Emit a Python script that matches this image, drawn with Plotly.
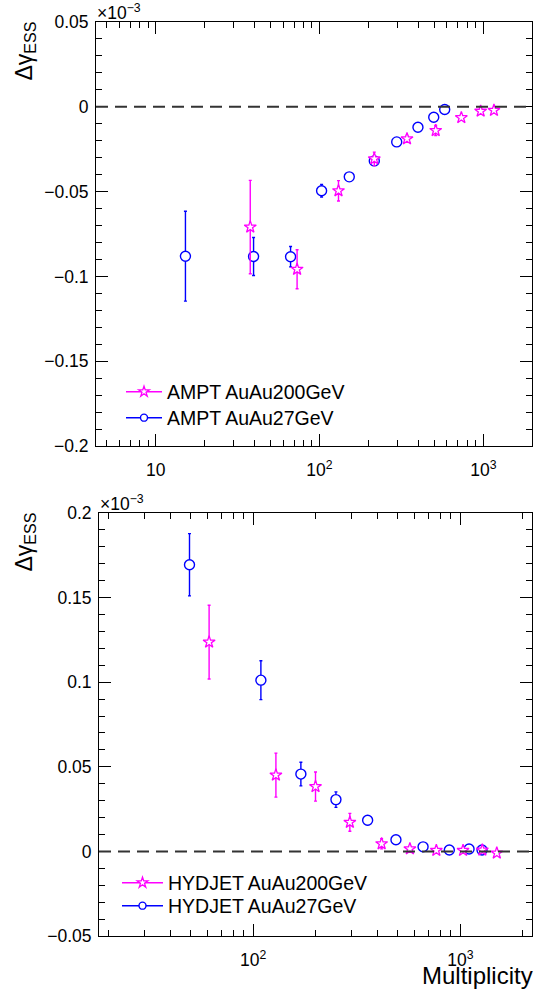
import plotly.graph_objects as go

W, H = 535, 996
FONT = "Liberation Sans, Arial, sans-serif"
MAG = "#ff00ff"
BLUE = "#0000ff"

# ---------------- data (values in units of 1e-3) ----------------
ampt200_x = [37.8, 73, 130.6, 216, 342, 512, 734, 963, 1161]
ampt200_y = [-0.0709, -0.0958, -0.0495, -0.0307, -0.0189, -0.0140, -0.0064, -0.0026, -0.0021]
ampt200_err = [0.0275, 0.0115, 0.0060, 0.0040, 0.0020, 0.0030, 0.0015, 0.0012, 0.0012]

ampt27_x = [15.2, 39.6, 66.6, 103, 152, 216, 296, 399, 498, 581]
ampt27_y = [-0.0881, -0.0883, -0.0884, -0.0495, -0.0413, -0.0319, -0.0207, -0.0121, -0.0062, -0.0016]
ampt27_err = [0.0265, 0.0112, 0.0060, 0.0037, 0.0020, 0.0010, 0.0008, 0.0006, 0.0005, 0.0005]

hyd200_x = [61.3, 128.8, 200, 293, 417, 571, 766, 1031, 1277, 1500]
hyd200_y = [0.1237, 0.0451, 0.0383, 0.0172, 0.0045, 0.0015, 0.0006, 0.0006, 0.0008, -0.0010]
hyd200_err = [0.0218, 0.0130, 0.0086, 0.0053, 0.0030, 0.0015, 0.0010, 0.0010, 0.0008, 0.0008]

hyd27_x = [49.3, 109, 170, 251, 357, 489, 661, 885, 1102, 1273]
hyd27_y = [0.1694, 0.1012, 0.0457, 0.0306, 0.0184, 0.0069, 0.0027, 0.0008, 0.0014, 0.0008]
hyd27_err = [0.0184, 0.0115, 0.0070, 0.0046, 0.0025, 0.0015, 0.0010, 0.0008, 0.0008, 0.0008]

top_names = ["AMPT AuAu200GeV", "AMPT AuAu27GeV"]
bot_names = ["HYDJET AuAu200GeV", "HYDJET AuAu27GeV"]

top_xticks = [10, 100, 1000]
top_xticktext = ["10", "10<sup>2</sup>", "10<sup>3</sup>"]
top_xminor = [5, 6, 7, 8, 9, 20, 30, 40, 50, 60, 70, 80, 90,
              200, 300, 400, 500, 600, 700, 800, 900]
bot_xticks = [100, 1000]
bot_xticktext = ["10<sup>2</sup>", "10<sup>3</sup>"]
bot_xminor = [20, 30, 40, 50, 60, 70, 80, 90,
              200, 300, 400, 500, 600, 700, 800, 900, 2000]


def star(size):
    return dict(symbol="star", size=size, color="white", line=dict(color=MAG, width=1.3))


def circ(size):
    return dict(symbol="circle", size=size, color="white", line=dict(color=BLUE, width=1.4))


def px(x):
    return x / W


def py(y):
    return 1 - y / H


fig = go.Figure()


def add_series(x, y, err, marker, color, xa, ya):
    fig.add_trace(go.Scatter(
        x=x, y=y, mode="markers", marker=marker, showlegend=False,
        error_y=dict(type="data", array=err, color=color, thickness=1.4, width=1.5),
        xaxis=xa, yaxis=ya, hoverinfo="skip"))


def add_legend_entry(name, marker, color, xa, ya, leg):
    fig.add_trace(go.Scatter(
        x=[None], y=[None], mode="lines+markers", marker=marker,
        line=dict(color=color, width=1.4), name=name, legend=leg,
        xaxis=xa, yaxis=ya))


add_series(ampt27_x, ampt27_y, ampt27_err, circ(10), BLUE, "x", "y")
add_series(ampt200_x, ampt200_y, ampt200_err, star(9), MAG, "x", "y")
add_series(hyd27_x, hyd27_y, hyd27_err, circ(10), BLUE, "x2", "y2")
add_series(hyd200_x, hyd200_y, hyd200_err, star(9), MAG, "x2", "y2")

add_legend_entry(top_names[0], star(8), MAG, "x", "y", "legend")
add_legend_entry(top_names[1], circ(7), BLUE, "x", "y", "legend3")
add_legend_entry(bot_names[0], star(8), MAG, "x2", "y2", "legend2")
add_legend_entry(bot_names[1], circ(7), BLUE, "x2", "y2", "legend4")

axis_common = dict(
    showline=True, linecolor="black", linewidth=1, mirror="ticks",
    ticks="inside", ticklen=12, tickwidth=1, tickcolor="black",
    showgrid=False, zeroline=False,
    tickfont=dict(family=FONT, size=17.5, color="black"),
)

LEGFONT = dict(family=FONT, size=19.5, color="black")


def leg(xl, yc, iw=36):
    return dict(x=px(xl), y=py(yc), xanchor="left", yanchor="middle",
                bgcolor="rgba(0,0,0,0)", borderwidth=0, itemwidth=iw, font=LEGFONT)


fig.update_layout(
    width=W, height=H,
    margin=dict(l=0, r=0, t=0, b=0, autoexpand=False),
    paper_bgcolor="white", plot_bgcolor="white",
    font=dict(family=FONT, size=17, color="black"),
    xaxis=dict(**axis_common, type="log", domain=[px(96), px(532)],
               range=[0.636, 3.297], tickmode="array", tickvals=top_xticks,
               ticktext=top_xticktext, anchor="y", ticklabelstandoff=8,
               minor=dict(tickmode="array", tickvals=top_xminor, ticks="inside",
                          ticklen=6, tickcolor="black", tickwidth=1, showgrid=False)),
    yaxis=dict(**axis_common, domain=[py(446), py(22)], range=[-0.2, 0.05],
               tick0=0, dtick=0.05, anchor="x", ticklabelstandoff=3,
               minor=dict(dtick=0.01, ticks="inside", ticklen=6, tickcolor="black",
                          tickwidth=1, showgrid=False)),
    xaxis2=dict(**axis_common, type="log", domain=[px(99), px(532)],
                range=[1.256, 3.346], tickmode="array", tickvals=bot_xticks,
                ticktext=bot_xticktext, anchor="y2", ticklabelstandoff=8,
                minor=dict(tickmode="array", tickvals=bot_xminor, ticks="inside",
                           ticklen=6, tickcolor="black", tickwidth=1, showgrid=False)),
    yaxis2=dict(**axis_common, domain=[py(936), py(513)], range=[-0.05, 0.2],
                tick0=0, dtick=0.05, anchor="x2", ticklabelstandoff=3,
                minor=dict(dtick=0.01, ticks="inside", ticklen=6, tickcolor="black",
                           tickwidth=1, showgrid=False)),
    legend=leg(121, 392),
    legend3=leg(121, 418),
    legend2=leg(117, 883, 41),
    legend4=leg(117, 906, 41),
    showlegend=True,
)

# dashed zero lines
for ya, xa in (("y", "x"), ("y2", "x2")):
    fig.add_shape(type="line", xref=f"{xa} domain", x0=0, x1=1, yref=ya, y0=0, y1=0,
                  line=dict(color="#333333", width=2, dash="12px,7px"), layer="above")

ann = []
for (xl, ytop) in ((96, 22), (99, 513)):
    ann.append(dict(x=px(xl - 1), y=py(ytop - 10), xref="paper", yref="paper",
                    xanchor="left", yanchor="middle", showarrow=False,
                    text="×10<sup>−3</sup>", font=dict(family=FONT, size=17.5, color="black")))
    ann.append(dict(x=px(25), y=py(ytop - 2), xref="paper", yref="paper",
                    xanchor="center", yanchor="top", showarrow=False, textangle=-90,
                    text="Δγ<sub>ESS</sub>", font=dict(family=FONT, size=23, color="black")))
ann.append(dict(x=px(535), y=py(975), xref="paper", yref="paper",
                xanchor="right", yanchor="middle", showarrow=False,
                text="Multiplicity", font=dict(family=FONT, size=24, color="black")))
fig.update_layout(annotations=ann)

fig.write_html("out.html",
               config={"displayModeBar": False},
               post_script="document.body.style.margin='0';document.body.style.padding='0';")
